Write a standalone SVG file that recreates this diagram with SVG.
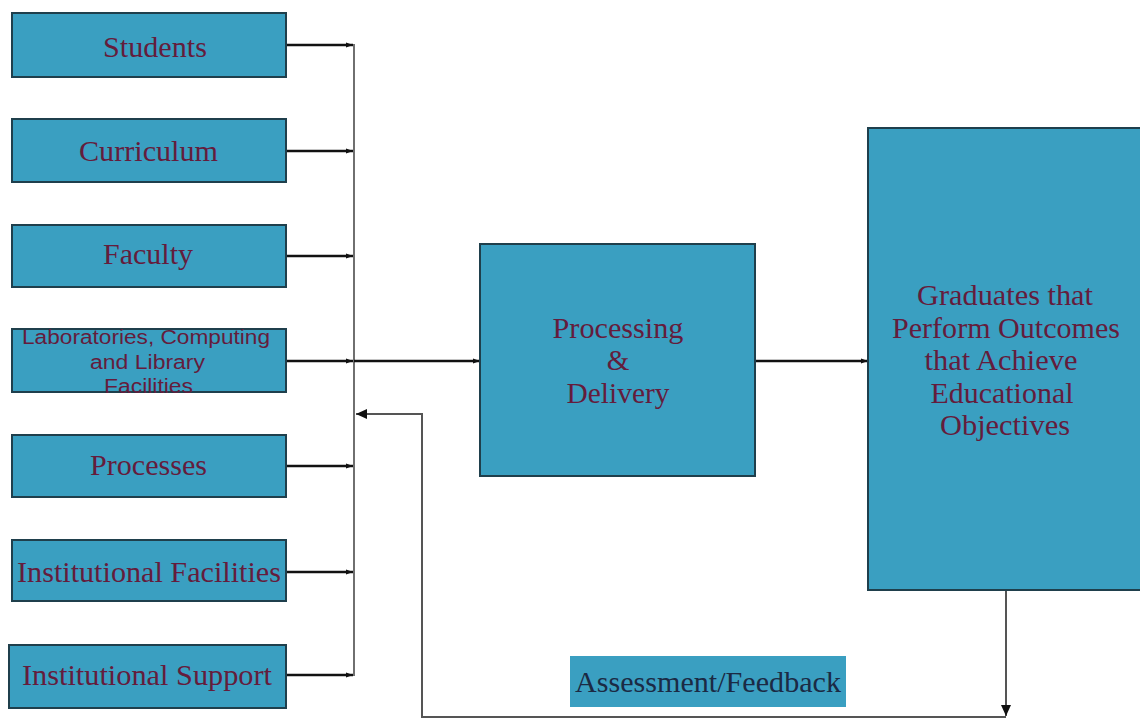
<svg xmlns="http://www.w3.org/2000/svg" width="1140" height="719" viewBox="0 0 1140 719">
<style>
.box{fill:#3a9fc1;stroke:#1f3f4c;stroke-width:2}
.t{font-family:"Liberation Serif","Times New Roman",serif;font-size:29px;fill:#641c3c;text-anchor:middle}
.s{font-family:"Liberation Sans",Arial,sans-serif;font-size:20px;fill:#641c3c;text-anchor:middle}
.thick{stroke:#111;stroke-width:2.6;fill:none}
.thin{stroke:#333;stroke-width:1.4;fill:none}
.fb{stroke:#555;stroke-width:2;fill:none}
</style>
<defs>
<marker id="ah" markerWidth="8" markerHeight="8" refX="7" refY="4" orient="auto" markerUnits="userSpaceOnUse">
<path d="M0,1.5 L7,4 L0,6.5 Z" fill="#111"/>
</marker>
<marker id="ah2" markerWidth="12" markerHeight="12" refX="11" refY="6" orient="auto" markerUnits="userSpaceOnUse">
<path d="M0,1 L11,6 L0,11 Z" fill="#111"/>
</marker>
</defs>
<rect width="1140" height="719" fill="#ffffff"/>

<g id="connectors">
<line class="thin" x1="354" y1="44" x2="354" y2="676"/>
<line class="thick" x1="287" y1="45" x2="353" y2="45" marker-end="url(#ah)"/>
<line class="thick" x1="287" y1="151" x2="353" y2="151" marker-end="url(#ah)"/>
<line class="thick" x1="287" y1="256" x2="353" y2="256" marker-end="url(#ah)"/>
<line class="thick" x1="287" y1="361" x2="353" y2="361" marker-end="url(#ah)"/>
<line class="thick" x1="287" y1="466" x2="353" y2="466" marker-end="url(#ah)"/>
<line class="thick" x1="287" y1="572" x2="353" y2="572" marker-end="url(#ah)"/>
<line class="thick" x1="287" y1="675" x2="353" y2="675" marker-end="url(#ah)"/>
<line class="thick" x1="354" y1="361" x2="480" y2="361" marker-end="url(#ah)"/>
<line class="thick" x1="756" y1="361" x2="868" y2="361" marker-end="url(#ah)"/>
<path class="fb" d="M1006,591 L1006,716" marker-end="url(#ah2)"/>
<path class="fb" d="M1006,717 L422,717 L422,414 L356,414" marker-end="url(#ah2)"/>
</g>

<g id="students">
<rect class="box" x="12" y="13" width="274" height="64"/>
<text class="t" x="155" y="57" textLength="104" lengthAdjust="spacingAndGlyphs">Students</text>
</g>
<g id="curriculum">
<rect class="box" x="12" y="119" width="274" height="63"/>
<text class="t" x="148.5" y="161" textLength="139" lengthAdjust="spacingAndGlyphs">Curriculum</text>
</g>
<g id="faculty">
<rect class="box" x="12" y="225" width="274" height="62"/>
<text class="t" x="148" y="264" textLength="90" lengthAdjust="spacingAndGlyphs">Faculty</text>
</g>
<g id="labs">
<rect class="box" x="12" y="329" width="274" height="63"/>
<text class="s" x="146" y="344" textLength="248" lengthAdjust="spacingAndGlyphs">Laboratories, Computing</text>
<text class="s" x="147.5" y="369" textLength="115" lengthAdjust="spacingAndGlyphs">and Library</text>
<text class="s" x="148.5" y="393" textLength="89" lengthAdjust="spacingAndGlyphs">Facilities</text>
</g>
<g id="processes">
<rect class="box" x="12" y="435" width="274" height="62"/>
<text class="t" x="148.5" y="475" textLength="117" lengthAdjust="spacingAndGlyphs">Processes</text>
</g>
<g id="institutional-facilities">
<rect class="box" x="12" y="540" width="274" height="61"/>
<text class="t" x="149" y="582" textLength="264" lengthAdjust="spacingAndGlyphs">Institutional Facilities</text>
</g>
<g id="institutional-support">
<rect class="box" x="9" y="645" width="277" height="63"/>
<text class="t" x="147" y="685" textLength="250" lengthAdjust="spacingAndGlyphs">Institutional Support</text>
</g>
<g id="processing">
<rect class="box" x="480" y="244" width="275" height="232"/>
<text class="t" x="618" y="338" textLength="131" lengthAdjust="spacingAndGlyphs">Processing</text>
<text class="t" x="618" y="370">&amp;</text>
<text class="t" x="618" y="403" textLength="103" lengthAdjust="spacingAndGlyphs">Delivery</text>
</g>
<g id="graduates">
<rect class="box" x="868" y="128" width="280" height="462"/>
<text class="t" x="1005" y="305" textLength="176" lengthAdjust="spacingAndGlyphs">Graduates that</text>
<text class="t" x="1006" y="338" textLength="228" lengthAdjust="spacingAndGlyphs">Perform Outcomes</text>
<text class="t" x="1001" y="370" textLength="153" lengthAdjust="spacingAndGlyphs">that Achieve</text>
<text class="t" x="1002" y="403" textLength="143" lengthAdjust="spacingAndGlyphs">Educational</text>
<text class="t" x="1005" y="435" textLength="130" lengthAdjust="spacingAndGlyphs">Objectives</text>
</g>
<g id="assessment">
<rect x="570" y="656" width="276" height="51" fill="#3a9fc1"/>
<text class="t" x="708" y="692" style="fill:#1b2a44" textLength="266" lengthAdjust="spacingAndGlyphs">Assessment/Feedback</text>
</g>
</svg>
